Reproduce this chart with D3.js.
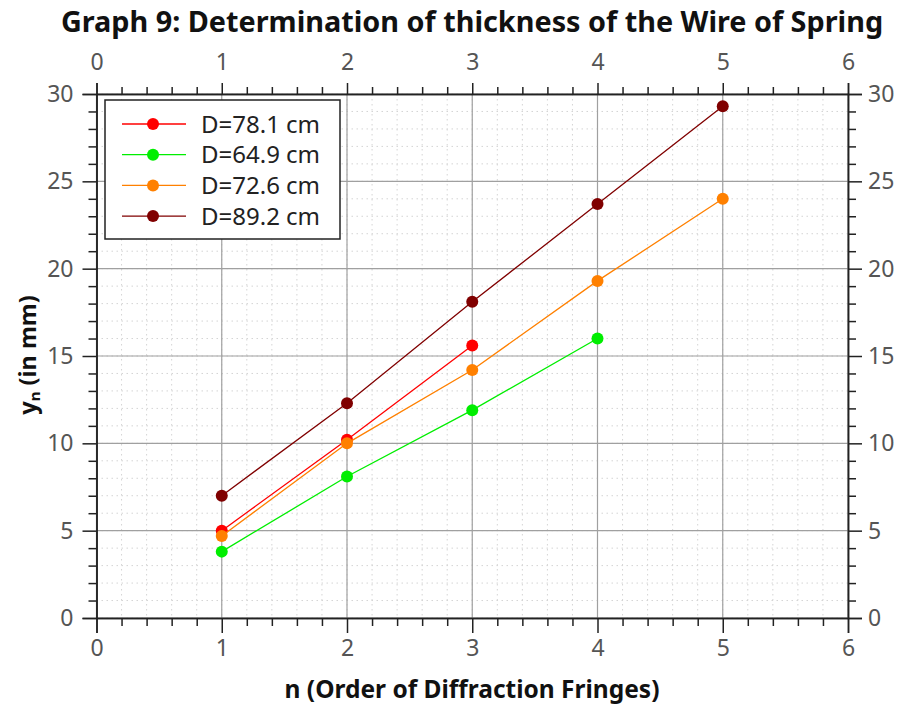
<!DOCTYPE html>
<html>
<head>
<meta charset="utf-8">
<script src="https://cdn.jsdelivr.net/npm/d3@7"></script>
<style>
  body { margin: 0; background: #fff; }
  svg { display: block; }
</style>
</head>
<body>
<svg id="chart" width="901" height="704"></svg>
<script>
// Data
const orders = [1, 2, 3, 4, 5];
const seriesNames = ['D=78.1 cm', 'D=64.9 cm', 'D=72.6 cm', 'D=89.2 cm'];
const seriesColors = ['#ff0000', '#00ee00', '#ff8000', '#800000'];
const yD781 = [5.0, 10.2, 15.6];
const yD649 = [3.8, 8.1, 11.9, 16.0];
const yD726 = [4.7, 10.0, 14.2, 19.3, 24.0];
const yD892 = [7.0, 12.3, 18.1, 23.7, 29.3];
const xTicks = [0, 1, 2, 3, 4, 5, 6];
const yTicks = [0, 5, 10, 15, 20, 25, 30];

const series = [yD781, yD649, yD726, yD892].map((vals, i) => ({
    name: seriesNames[i],
    color: seriesColors[i],
    points: vals.map((v, j) => ({ n: orders[j], y: v }))
}));

const svg = d3.select('#chart');
const margin = { top: 94, right: 53, bottom: 86, left: 96.5 };
const width = 901 - margin.left - margin.right;
const height = 704 - margin.top - margin.bottom;

const x = d3.scaleLinear().domain([0, 6]).range([0, width]);
const y = d3.scaleLinear().domain([0, 30]).range([height, 0]);

const g = svg.append('g')
    .attr('transform', `translate(${margin.left},${margin.top})`);

// minor grid (dotted)
const xMinor = d3.range(0, 6.0001, 0.2);
const yMinor = d3.range(0, 30.0001, 1);
g.append('g').selectAll('line')
    .data(xMinor)
    .enter().append('line')
    .attr('x1', d => x(d)).attr('x2', d => x(d))
    .attr('y1', 0).attr('y2', height)
    .attr('stroke', '#d4d4d4').attr('stroke-dasharray', '1.5,3.5');
g.append('g').selectAll('line')
    .data(yMinor)
    .enter().append('line')
    .attr('y1', d => y(d)).attr('y2', d => y(d))
    .attr('x1', 0).attr('x2', width)
    .attr('stroke', '#d4d4d4').attr('stroke-dasharray', '1.5,3.5');

// major grid
g.append('g').selectAll('line')
    .data(xTicks)
    .enter().append('line')
    .attr('x1', d => x(d)).attr('x2', d => x(d))
    .attr('y1', 0).attr('y2', height)
    .attr('stroke', '#a0a0a0').attr('stroke-width', 1.2);
g.append('g').selectAll('line')
    .data(yTicks)
    .enter().append('line')
    .attr('y1', d => y(d)).attr('y2', d => y(d))
    .attr('x1', 0).attr('x2', width)
    .attr('stroke', '#a0a0a0').attr('stroke-width', 1.2);

// axes: minor ticks then major ticks with labels
function styleAxis(sel) {
    sel.selectAll('.domain').attr('stroke', '#222').attr('stroke-width', 1.5);
    sel.selectAll('.tick line').attr('stroke', '#222').attr('stroke-width', 1.5);
    sel.selectAll('.tick text')
        .attr('fill', '#555')
        .style('font-family', '"Noto Sans", sans-serif')
        .style('font-size', '23px');
}

const minorX = xMinor.filter(d => Math.abs(d - Math.round(d)) > 1e-6);
const minorY = yMinor.filter(d => d % 5 !== 0);

g.append('g').attr('transform', `translate(0,${height})`)
    .call(d3.axisBottom(x).tickValues(minorX).tickSize(8).tickFormat('').tickSizeOuter(0))
    .call(styleAxis);
g.append('g')
    .call(d3.axisTop(x).tickValues(minorX).tickSize(7).tickFormat('').tickSizeOuter(0))
    .call(styleAxis);
g.append('g')
    .call(d3.axisLeft(y).tickValues(minorY).tickSize(8).tickFormat('').tickSizeOuter(0))
    .call(styleAxis);
g.append('g').attr('transform', `translate(${width},0)`)
    .call(d3.axisRight(y).tickValues(minorY).tickSize(8).tickFormat('').tickSizeOuter(0))
    .call(styleAxis);

g.append('g').attr('transform', `translate(0,${height})`)
    .call(d3.axisBottom(x).tickValues(xTicks).tickSize(15).tickPadding(7).tickFormat(d3.format('d')))
    .call(styleAxis);
g.append('g')
    .call(d3.axisTop(x).tickValues(xTicks).tickSize(11).tickPadding(13).tickFormat(d3.format('d')))
    .call(styleAxis);
g.append('g')
    .call(d3.axisLeft(y).tickValues(yTicks).tickSize(14).tickPadding(9).tickFormat(d3.format('d')))
    .call(styleAxis);
g.append('g').attr('transform', `translate(${width},0)`)
    .call(d3.axisRight(y).tickValues(yTicks).tickSize(14).tickPadding(6).tickFormat(d3.format('d')))
    .call(styleAxis);

// series lines and markers
const line = d3.line().x(d => x(d.n)).y(d => y(d.y));
series.forEach(s => {
    g.append('path')
        .datum(s.points)
        .attr('fill', 'none')
        .attr('stroke', s.color)
        .attr('stroke-width', 1.3)
        .attr('d', line);
    g.append('g').selectAll('circle')
        .data(s.points)
        .enter().append('circle')
        .attr('cx', d => x(d.n))
        .attr('cy', d => y(d.y))
        .attr('r', 6)
        .attr('fill', s.color);
});

// legend
const legend = g.append('g').attr('transform', 'translate(8.5,6)');
legend.append('rect')
    .attr('width', 235).attr('height', 139)
    .attr('fill', '#fff').attr('stroke', '#222').attr('stroke-width', 1.5);
series.forEach((s, i) => {
    const row = legend.append('g').attr('transform', `translate(0,${24 + i * 30.7})`);
    row.append('line')
        .attr('x1', 17).attr('x2', 81)
        .attr('stroke', s.color).attr('stroke-width', 1.3);
    row.append('circle').attr('cx', 48).attr('r', 6).attr('fill', s.color);
    row.append('text')
        .attr('x', 96).attr('dy', '0.36em')
        .attr('fill', '#222')
        .style('font-family', '"Noto Sans", sans-serif')
        .style('font-size', '24px')
        .text(s.name);
});

// titles
svg.append('text')
    .attr('x', 472).attr('y', 32)
    .attr('text-anchor', 'middle')
    .style('font-family', '"Noto Sans", sans-serif')
    .style('font-weight', 'bold')
    .style('font-size', '28.8px')
    .attr('fill', '#111')
    .text('Graph 9: Determination of thickness of the Wire of Spring');

svg.append('text')
    .attr('x', 472).attr('y', 698)
    .attr('text-anchor', 'middle')
    .style('font-family', '"Noto Sans", sans-serif')
    .style('font-weight', 'bold')
    .style('font-size', '24.5px')
    .attr('fill', '#111')
    .text('n (Order of Diffraction Fringes)');

const yLabel = svg.append('text')
    .attr('transform', 'translate(36,355) rotate(-90)')
    .attr('text-anchor', 'middle')
    .style('font-family', '"Noto Sans", sans-serif')
    .style('font-weight', 'bold')
    .style('font-size', '23.5px')
    .attr('fill', '#111');
yLabel.append('tspan').text('y');
yLabel.append('tspan').attr('font-size', '15px').attr('dy', 4).text('n');
yLabel.append('tspan').attr('dy', -4).text(' (in mm)');
</script>
</body>
</html>
